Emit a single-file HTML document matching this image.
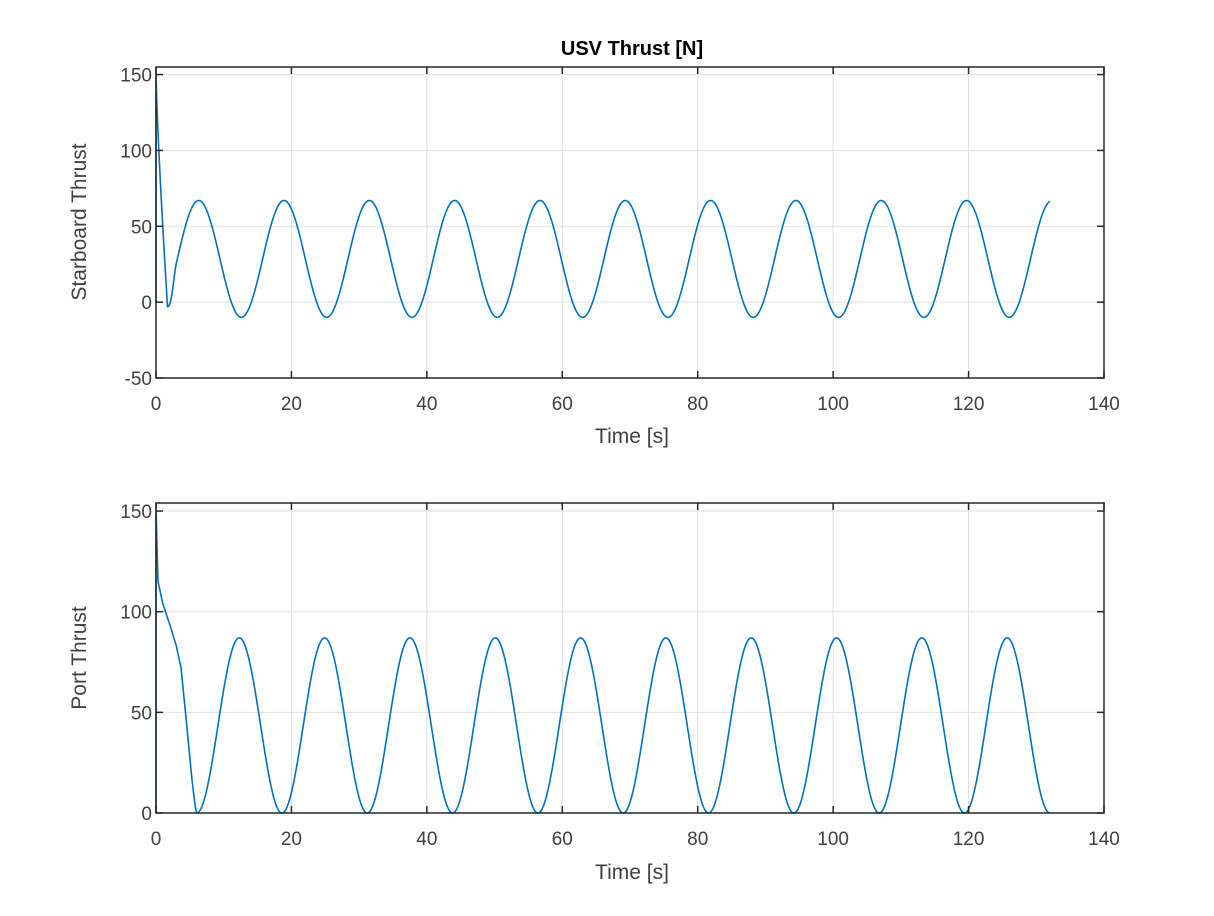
<!DOCTYPE html>
<html><head><meta charset="utf-8"><style>
html,body{margin:0;padding:0;background:#fff;}
svg text{font-family:"Liberation Sans",Arial,sans-serif;fill:#404040;}
</style></head><body>
<svg id="s" width="1214" height="911" xmlns="http://www.w3.org/2000/svg">
<rect width="1214" height="911" fill="#fff"/>
<g id="g"></g>
<text x="632" y="55" font-size="20" font-weight="bold" text-anchor="middle" style="fill:#000">USV Thrust [N]</text>
<text x="632" y="443" font-size="21" text-anchor="middle">Time [s]</text>
<text x="632" y="879" font-size="21" text-anchor="middle">Time [s]</text>
<text transform="translate(86,222) rotate(-90)" font-size="21" text-anchor="middle">Starboard Thrust</text>
<text transform="translate(86,658) rotate(-90)" font-size="21" text-anchor="middle">Port Thrust</text>
</svg>
<script>
var NS="http://www.w3.org/2000/svg",g=document.getElementById("g");
function el(t,a,txt){var e=document.createElementNS(NS,t);for(var k in a)e.setAttribute(k,a[k]);if(txt!==undefined)e.textContent=txt;g.appendChild(e);return e;}
var X0=156,X1=1104;function sx(t){return X0+t*(X1-X0)/140;}
function axes(top,bot,ymin,ymax,yticks,fn){
 function sy(v){return bot-(v-ymin)*(bot-top)/(ymax-ymin);}
 for(var t=20;t<140;t+=20)el("line",{x1:sx(t),x2:sx(t),y1:top,y2:bot,stroke:"#dfdfdf","stroke-width":1});
 yticks.forEach(function(v){if(v>ymin&&v<ymax)el("line",{x1:X0,x2:X1,y1:sy(v),y2:sy(v),stroke:"#dfdfdf","stroke-width":1});});
 var d="M"+sx(0)+","+sy(0);
 for(var t=0;t<=132;t+=0.05){d+=" L"+sx(t).toFixed(2)+","+sy(fn(t)).toFixed(2);}
 el("path",{d:d,fill:"none",stroke:"#0072bd","stroke-width":1.6});
 el("rect",{x:X0,y:top,width:X1-X0,height:bot-top,fill:"none",stroke:"#262626","stroke-width":1.5});
 for(var t=0;t<=140;t+=20){
  el("line",{x1:sx(t),x2:sx(t),y1:bot,y2:bot-7,stroke:"#262626","stroke-width":1.5});
  el("line",{x1:sx(t),x2:sx(t),y1:top,y2:top+7,stroke:"#262626","stroke-width":1.5});
  el("text",{x:sx(t),y:bot+32,"font-size":19,"text-anchor":"middle"},String(t));
 }
 yticks.forEach(function(v){
  el("line",{x1:X0,x2:X0+7,y1:sy(v),y2:sy(v),stroke:"#262626","stroke-width":1.5});
  el("line",{x1:X1,x2:X1-7,y1:sy(v),y2:sy(v),stroke:"#262626","stroke-width":1.5});
  el("text",{x:X0-4,y:sy(v)+7,"font-size":19,"text-anchor":"end"},String(v));
 });
}
var P=12.6;
function interp(pts,t){for(var i=1;i<pts.length;i++){if(t<=pts[i][0]){var a=pts[i-1],b=pts[i],w=(t-a[0])/(b[0]-a[0]);return a[1]+(b[1]-a[1])*w;}}return pts[pts.length-1][1];}
function star(t){
 var c=28.5+38.5*Math.cos(2*Math.PI*(t-6.3)/P);
 if(t<1.7){return 150+(-3-150)*Math.pow(t/1.7,0.8);}
 if(t<3){var w=(t-1.7)/1.3;w=w*w*(3-2*w);return -3*(1-w)+c*w;}
 return c;
}
var pp=[[0,150],[0.3,115],[1,104],[2,94],[3,83],[3.7,72],[4.5,45],[5.3,17],[5.8,3],[6,0]];
function port(t){
 if(t<6)return interp(pp,t);
 return 43.5-43.5*Math.cos(2*Math.PI*(t-6)/P);
}
axes(67,378,-50,155,[-50,0,50,100,150],star);
axes(503,813,0,154,[0,50,100,150],port);
</script>
</body></html>
